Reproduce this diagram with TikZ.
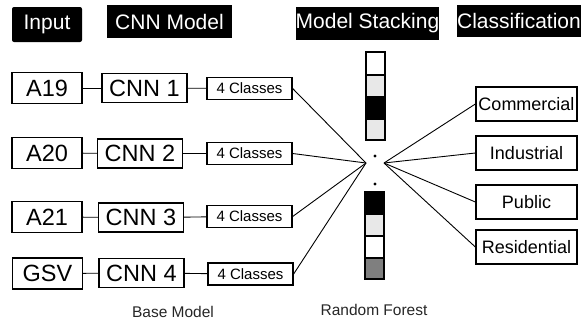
\documentclass[tikz,border=0pt]{standalone}
\usepackage{fontspec}
\setmainfont{Liberation Sans}
\definecolor{lgrey}{HTML}{E8E8E8}
\definecolor{dgrey}{HTML}{7F7F7F}
\begin{document}
\begin{tikzpicture}[x=1pt,y=-1pt,
  hdr/.style={fill=black,text=white,inner sep=0pt,font=\fontsize{21}{23}\selectfont},
  inbox/.style={draw,line width=1.3pt,minimum width=70pt,minimum height=31pt,inner sep=0pt,font=\fontsize{23.5}{25}\selectfont},
  cnnbox/.style={draw,line width=1.3pt,minimum width=85pt,minimum height=29pt,inner sep=0pt,font=\fontsize{23.5}{25}\selectfont},
  clsbox/.style={draw,line width=1.3pt,minimum width=85pt,minimum height=22pt,inner sep=0pt,font=\fontsize{15}{16}\selectfont},
  outbox/.style={draw,line width=1.3pt,minimum width=101pt,minimum height=34pt,inner sep=0pt,font=\fontsize{18}{19}\selectfont},
  link/.style={line width=0.9pt},
  cell/.style={draw,line width=1.3pt},
  captext/.style={font=\fontsize{15.5}{17}\selectfont,text=black!85}
]
\useasboundingbox (0,0) rectangle (584,322);
% headers
\node[hdr,minimum width=70pt,minimum height=35pt,rounded corners=2pt] (hin) at (47,24.5) {Input};
\node[hdr,minimum width=125pt,minimum height=33pt] (hcnn) at (169.5,21.5) {CNN Model};
\node[hdr,minimum width=141pt,minimum height=33pt] (hms) at (367.5,23.5) {Model Stacking};
\node[hdr,minimum width=122pt,minimum height=32pt] (hcl) at (519,21) {Classification};
% rows
\node[inbox] (a19) at (47,88) {A19};
\node[cnnbox] (c1) at (144.5,88) {CNN 1};
\node[clsbox] (k1) at (249.5,88.5) {4 Classes};
\node[inbox] (a20) at (47,153) {A20};
\node[cnnbox] (c2) at (140,153.5) {CNN 2};
\node[clsbox] (k2) at (249.5,153.5) {4 Classes};
\node[inbox] (a21) at (47,217) {A21};
\node[cnnbox] (c3) at (141,217.5) {CNN 3};
\node[clsbox] (k3) at (249.5,216.5) {4 Classes};
\node[inbox] (gsv) at (47.5,273.5) {GSV};
\node[cnnbox] (c4) at (141.5,273) {CNN 4};
\node[clsbox] (k4) at (250.5,274) {4 Classes};
\draw[link] (a19) -- (c1); \draw[link] (c1) -- (k1);
\draw[link] (a20) -- (c2); \draw[link] (c2) -- (k2);
\draw[link] (a21) -- (c3); \draw[link] (c3) -- (k3);
\draw[link] (gsv) -- (c4); \draw[link] (c4) -- (k4);
\node[captext] (bm) at (173,312) {Base Model};
\node[captext] (rf) at (374,310) {Random Forest};
% stacks
\draw[cell,fill=white] (366,52) rectangle (385,75);
\draw[cell,fill=lgrey] (366,75) rectangle (385,97);
\draw[cell,fill=black] (366,97) rectangle (385,119);
\draw[cell,fill=lgrey] (366,119) rectangle (385,140);
\draw[cell,fill=black] (365,192) rectangle (384,214);
\draw[cell,fill=lgrey] (365,214) rectangle (384,236);
\draw[cell,fill=white] (365,236) rectangle (384,258);
\draw[cell,fill=dgrey] (365,258) rectangle (384,279);
\fill (375,156) circle (1.7pt);
\fill (375,184) circle (1.7pt);
\coordinate (L) at (366,163);
\coordinate (R) at (384,163);
% outputs
\node[outbox] (com) at (526.5,104) {Commercial};
\node[outbox] (ind) at (526.5,153) {Industrial};
\node[outbox] (pub) at (526.5,202) {Public};
\node[outbox] (res) at (526.5,247) {Residential};
\draw[link] (k1.east) -- (L);
\draw[link] (k2.east) -- (L);
\draw[link] (k3.east) -- (L);
\draw[link] (k4.east) -- (L);
\draw[link] (R) -- (com.west);
\draw[link] (R) -- (ind.west);
\draw[link] (R) -- (pub.west);
\draw[link] (R) -- (res.west);
\end{tikzpicture}
\end{document}
